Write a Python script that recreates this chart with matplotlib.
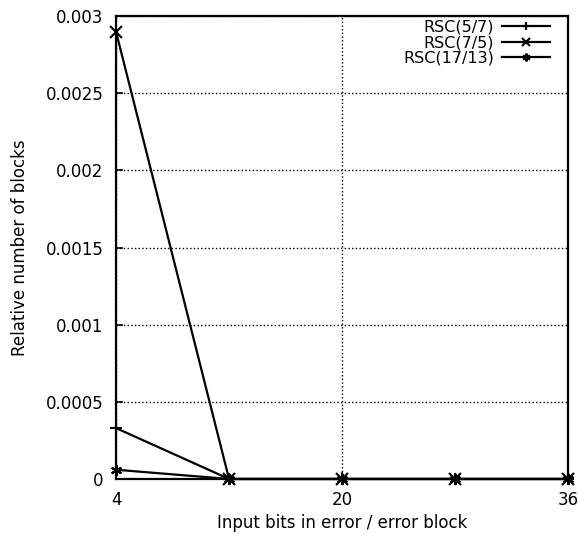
import matplotlib
matplotlib.use("Agg")
import matplotlib.pyplot as plt

# --- DATA ---
x_bits = [4, 12, 20, 28, 36]
rsc_5_7 = [0.00033, 0.0, 0.0, 0.0, 0.0]
rsc_7_5 = [0.0029, 0.0, 0.0, 0.0, 0.0]
rsc_17_13 = [0.00006, 0.0, 0.0, 0.0, 0.0]
labels = ["RSC(5/7)", "RSC(7/5)", "RSC(17/13)"]
x_ticks = [4, 20, 36]
y_ticks = [0, 0.0005, 0.001, 0.0015, 0.002, 0.0025, 0.003]
y_tick_labels = ["0", "0.0005", "0.001", "0.0015", "0.002", "0.0025", "0.003"]

plt.rcParams["font.family"] = ["DejaVu Sans"]

fig = plt.figure(figsize=(5.78, 5.4), dpi=100)
ax = fig.add_axes([0.2007, 0.113, 0.7823, 0.857])

series = [rsc_5_7, rsc_7_5, rsc_17_13]
markers = ["+", "x", (6, 2, 0)]
for vals, lab, mk in zip(series, labels, markers):
    ax.plot(x_bits, vals, color="black", lw=1.6, marker=mk, ms=8, mew=1.5,
            label=lab, clip_on=False)

ax.set_xlim(4, 36)
ax.set_ylim(0, 0.003)
ax.set_xticks(x_ticks)
ax.set_yticks(y_ticks)
ax.set_yticklabels(y_tick_labels)
ax.tick_params(direction="in", length=5, labelsize=12, width=1.2)
ax.tick_params(axis="x", pad=9)
ax.tick_params(axis="y", pad=9)
ax.grid(True, color="black", linestyle=":", linewidth=1.0)
for s in ax.spines.values():
    s.set_linewidth(1.6)

ax.set_xlabel("Input bits in error / error block", fontsize=12, labelpad=3)
ax.set_ylabel("Relative number of blocks", fontsize=12, labelpad=12)

leg = ax.legend(loc="upper right", bbox_to_anchor=(0.967, 1.0), frameon=False,
                markerfirst=False, fontsize=11.5, handlelength=3.0,
                borderaxespad=0.1, labelspacing=0.05, handletextpad=0.5,
                markerscale=0.7, borderpad=0.1)

fig.savefig("out.png", dpi=100, facecolor="white")
